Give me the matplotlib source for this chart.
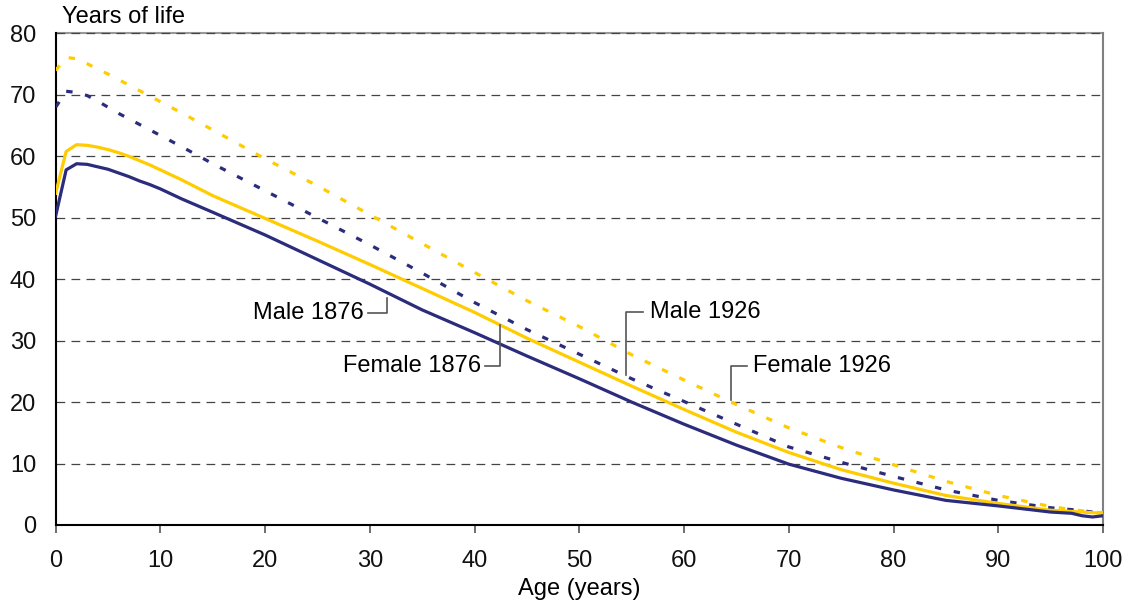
import matplotlib.pyplot as plt

plt.rcParams['font.family'] = ['Liberation Sans', 'DejaVu Sans']

# ages and remaining years of life
age = [0, 1, 2, 3, 4, 5, 6, 7, 8, 9, 10, 12, 15, 20, 25, 30, 35, 40, 45, 50, 55, 60, 65, 70, 75, 80, 85, 90, 95, 97, 98, 99, 100]
male_1876 = [50.3, 57.8, 58.8, 58.7, 58.3, 57.9, 57.3, 56.7, 56.0, 55.4, 54.7, 53.1, 50.9, 47.2, 43.2, 39.2, 35.0, 31.3, 27.5, 23.8, 20.0, 16.4, 13.0, 9.9, 7.6, 5.7, 4.0, 3.1, 2.1, 1.9, 1.5, 1.3, 1.5]
female_1876 = [54.0, 60.8, 61.9, 61.8, 61.5, 61.1, 60.6, 60.0, 59.3, 58.6, 57.8, 56.2, 53.6, 49.9, 46.2, 42.4, 38.5, 34.6, 30.4, 26.5, 22.6, 18.8, 15.1, 11.8, 9.0, 6.8, 4.8, 3.5, 2.4, 2.2, 2.1, 2.0, 1.9]
male_1926 = [68.0, 70.6, 70.4, 69.9, 69.0, 68.0, 67.0, 66.1, 65.2, 64.3, 63.4, 61.6, 58.8, 54.4, 50.0, 45.6, 41.0, 36.2, 31.8, 27.8, 23.8, 20.1, 16.4, 12.7, 10.2, 7.9, 5.7, 4.0, 2.8, 2.5, 2.3, 2.1, 2.0]
female_1926 = [74.0, 76.1, 75.9, 75.1, 74.2, 73.4, 72.5, 71.6, 70.7, 69.8, 68.9, 67.1, 64.3, 59.6, 55.2, 50.5, 45.8, 41.1, 36.5, 32.3, 27.7, 23.6, 19.6, 15.8, 12.6, 9.8, 7.1, 4.8, 3.0, 2.5, 2.3, 2.1, 2.0]

navy = '#2B2C7C'
gold = '#FFCC00'

fig = plt.figure(figsize=(11.27, 6.09), dpi=100)
ax = fig.add_axes([0.0494, 0.138, 0.9293, 0.807])

# grid lines
for v in range(10, 90, 10):
    ax.axhline(v, color='#444444', lw=0.9, ls=(0, (7, 5)), zorder=1, clip_on=False)

ax.plot(age, female_1926, color=gold, lw=2.3, dashes=(2, 4), zorder=3)
ax.plot(age, male_1926, color=navy, lw=2.3, dashes=(2, 4), zorder=3)
ax.plot(age, female_1876, color=gold, lw=2.3, zorder=4)
ax.plot(age, male_1876, color=navy, lw=2.3, zorder=4)

ax.set_xlim(0, 100)
ax.set_ylim(0, 80)
ax.set_xticks(range(0, 101, 10))
ax.set_yticks(range(0, 81, 10))
ax.tick_params(axis='x', direction='out', length=6, width=1.2, color='#555555', pad=12, labelsize=17)
ax.tick_params(axis='y', length=0, pad=14, labelsize=17)
for lab in ax.get_xticklabels() + ax.get_yticklabels():
    lab.set_color('#111111')

ax.spines['left'].set_color('black')
ax.spines['bottom'].set_color('black')
ax.spines['left'].set_linewidth(1.5)
ax.spines['bottom'].set_linewidth(1.5)
ax.spines['top'].set_color('#999999')
ax.spines['right'].set_color('#808080')
ax.spines['top'].set_linewidth(1.5)
ax.spines['right'].set_linewidth(1.5)
ax.spines['top'].set_zorder(0.5)

ax.set_xlabel('Age (years)', fontsize=17, labelpad=4)
fig.text(0.055, 0.972, 'Years of life', fontsize=17, va='center', ha='left')

# leader labels
lc = '#555555'
def leader(text, tx, ty, ex, ey, side):
    # text at (tx, ty), elbow at (ex, ty), end at (ex, ey)
    ax.plot([tx, ex, ex], [ty, ty, ey], color=lc, lw=1.2, zorder=5)
    if side == 'left':
        ax.text(tx - 0.4, ty, text, fontsize=17, ha='right', va='center')
    else:
        ax.text(tx + 0.6, ty, text, fontsize=17, ha='left', va='center')

leader('Male 1876', 29.8, 34.5, 31.6, 37.0, 'left')
leader('Female 1876', 41.0, 25.9, 42.4, 32.5, 'left')
leader('Male 1926', 56.1, 34.6, 54.5, 24.4, 'right')
leader('Female 1926', 66.0, 25.9, 64.5, 20.4, 'right')

fig.savefig('out.png', dpi=100)
